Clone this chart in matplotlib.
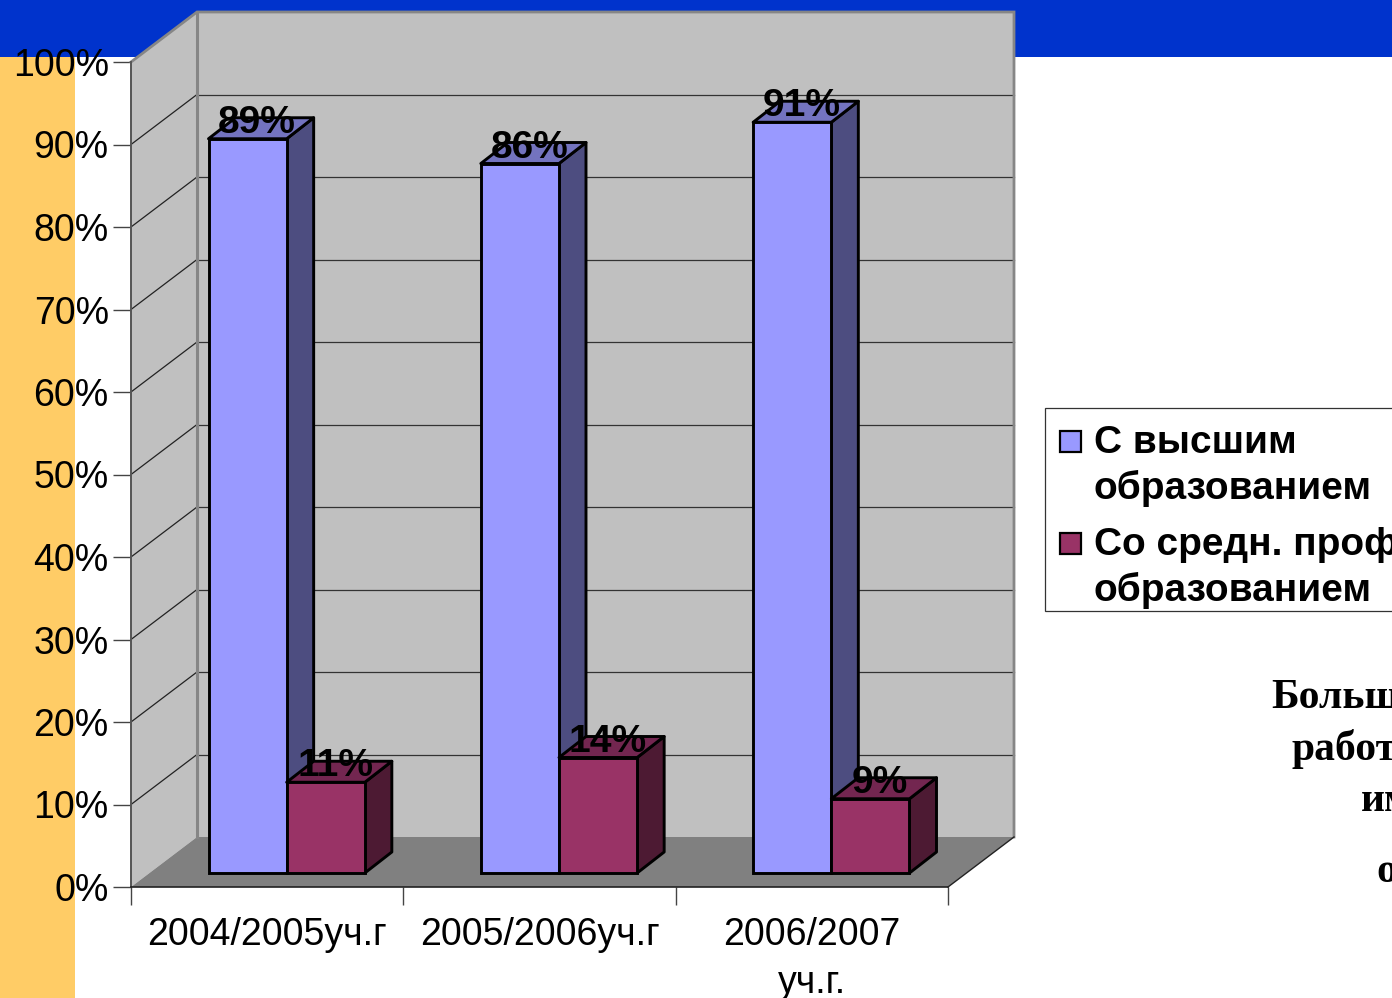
import matplotlib
matplotlib.use("Agg")
import matplotlib.pyplot as plt
from matplotlib.patches import Rectangle, Polygon, Patch
from matplotlib.legend_handler import HandlerPatch
from matplotlib.transforms import Affine2D

# ---- data ----
categories = ["2004/2005уч.г", "2005/2006уч.г", "2006/2007\nуч.г."]
higher_ed = [89, 86, 91]
secondary_ed = [11, 14, 9]
series_names = ["С высшим\nобразованием", "Со средн. проф.\nобразованием"]
y_ticks = [0, 10, 20, 30, 40, 50, 60, 70, 80, 90, 100]
side_fragments = ["Больш", "работ", "им", "о"]

# ---- layout (pixels of the 1392x998 canvas) ----
W, H = 1392, 998
L, R, T, B = 131, 948, 62, 887
WALL_DX, WALL_DY = 66, 50
BAR_DX, BAR_DY = 19.5, 14
DEPTH_DX, DEPTH_DY = 27, 21
BAR_W = 0.287

plt.rcParams["font.family"] = ["Liberation Sans", "DejaVu Sans"]
fig = plt.figure(figsize=(W / 100, H / 100), dpi=100, facecolor="white")
fig.add_artist(Rectangle((0, 1 - 57 / H), 1, 57 / H, transform=fig.transFigure, fc="#0033CC", ec="none", zorder=-5))
fig.add_artist(Rectangle((0, 0), 75 / W, 1 - 57 / H, transform=fig.transFigure, fc="#FFCC66", ec="none", zorder=-5))

ax = fig.add_axes([L / W, 1 - B / H, (R - L) / W, (B - T) / H], facecolor="none")
ax.set_xlim(0, len(categories))
ax.set_ylim(0, 100)
ux = (R - L) / len(categories)   # px per category
uy = (B - T) / 100               # px per percent
xmax = len(categories)


def shifted(dx, dy):
    return ax.transData + Affine2D().translate(dx, dy)


wdx, wdy = WALL_DX / ux, WALL_DY / uy
# walls and floor
ax.add_patch(Polygon([(0, 0), (wdx, wdy), (wdx, 100 + wdy), (0, 100)], fc="#C0C0C0", ec="none", clip_on=False, zorder=1))
ax.add_patch(Rectangle((wdx, wdy), xmax, 100, fc="#C0C0C0", ec="none", clip_on=False, zorder=1))
ax.add_patch(Polygon([(0, 0), (xmax, 0), (xmax + wdx, wdy), (wdx, wdy)], fc="#808080", ec="none", clip_on=False, zorder=1.5))
# gridlines
for v in y_ticks[1:-1]:
    ax.plot([wdx, wdx + xmax], [v + wdy, v + wdy], color="#333333", lw=0.9, clip_on=False, zorder=2)
    ax.plot([0, wdx], [v, v + wdy], color="#222222", lw=0.9, clip_on=False, zorder=2)
# wall borders
edge = "#868686"
ax.plot([0, wdx, wdx + xmax, wdx + xmax], [100, 100 + wdy, 100 + wdy, wdy], color=edge, lw=2, clip_on=False, zorder=2.2, solid_joinstyle="miter")
ax.plot([wdx, wdx], [wdy, 100 + wdy], color=edge, lw=2.2, clip_on=False, zorder=2.2)
ax.plot([xmax, xmax + wdx], [0, wdy], color="#222222", lw=1, clip_on=False, zorder=2.2)

# bars
styles = [("#9999FF", "#4D4D80", "#7373BF"), ("#993366", "#4D1A33", "#732650")]
ddx, ddy = DEPTH_DX / ux, DEPTH_DY / uy
offs = shifted(BAR_DX, BAR_DY)
z = 3.0
for i in range(len(categories)):
    for s, vals in enumerate([higher_ed, secondary_ed]):
        v = vals[i]
        x0 = i + 0.5 + (s - 1) * BAR_W
        x1 = x0 + BAR_W
        front, side, top = styles[s]
        kw = dict(ec="black", lw=2.1, clip_on=False, transform=offs, joinstyle="round", zorder=z)
        ax.add_patch(Polygon([(x1, 0), (x1 + ddx, ddy), (x1 + ddx, v + ddy), (x1, v)], fc=side, **kw))
        ax.add_patch(Polygon([(x0, v), (x1, v), (x1 + ddx, v + ddy), (x0 + ddx, v + ddy)], fc=top, **kw))
        ax.bar(x0, v, BAR_W, align="edge", color=front, edgecolor="black", linewidth=2.1,
               transform=offs, clip_on=False, zorder=z)
        z += 0.01
# value labels sit on top of the bars
for i in range(len(categories)):
    for s, vals in enumerate([higher_ed, secondary_ed]):
        v = vals[i]
        xc = i + 0.5 + (s - 0.5) * BAR_W
        ax.annotate(f"{v}%", (xc, v), xycoords=offs, xytext=(9.5, 16), textcoords="offset pixels",
                    ha="center", va="center", fontsize=28, fontweight="bold", color="black",
                    zorder=6, annotation_clip=False)

# axes
for sp in ("top", "right"):
    ax.spines[sp].set_visible(False)
ax.spines["left"].set_color("#555555")
ax.spines["left"].set_linewidth(1.4)
ax.spines["bottom"].set_color("#222222")
ax.spines["bottom"].set_linewidth(1.2)
ax.spines["left"].set_zorder(2.5)
ax.spines["bottom"].set_zorder(2.5)
ax.set_yticks(y_ticks)
ax.set_yticklabels([f"{v}%" for v in y_ticks])
ax.set_xticks(range(len(categories) + 1))
ax.set_xticklabels([])
ax.set_xticks([i + 0.5 for i in range(len(categories))], labels=categories, minor=True)
ax.tick_params(axis="y", length=13, width=1, color="#444444", pad=3, labelsize=27, labelcolor="black")
ax.tick_params(axis="x", which="major", length=13, width=1, color="#444444")
ax.tick_params(axis="x", which="minor", length=0, pad=21.5, labelsize=27, labelcolor="black")
for t in ax.get_xticklabels(minor=True):
    t.set_linespacing(1.42)


# legend
def first_line_square(legend, orig_handle, xdescent, ydescent, width, height, fontsize):
    return Rectangle((xdescent + 5, ydescent + 17.0), 15.5, 15.5)


fig.add_artist(Rectangle((1045 / W, 1 - 611 / H), 400 / W, 203 / H, transform=fig.transFigure,
                         fc="white", ec="#333333", lw=0.9, clip_on=True, zorder=1))
handles = [Patch(fc=styles[0][0], ec="black", lw=1.6), Patch(fc=styles[1][0], ec="black", lw=1.6)]
leg = fig.legend(handles, series_names, loc="upper left",
                 bbox_to_anchor=(1045 / W, 1 - 417 / H), bbox_transform=fig.transFigure,
                 fontsize=28, frameon=False,
                 borderpad=0.2, labelspacing=0.5, handlelength=0.95, handleheight=1.0, handletextpad=0.1,
                 borderaxespad=0, prop={"family": "Liberation Sans", "weight": "bold", "size": 28},
                 handler_map={Patch: HandlerPatch(patch_func=first_line_square)})
leg.set_zorder(2)
for t in leg.get_texts():
    t.set_linespacing(1.33)

# cropped side text
for frag, x, y in zip(side_fragments, [1271, 1292, 1361, 1376], [698, 749, 801, 872]):
    fig.text(x / W, 1 - y / H, frag, ha="left", va="center", fontsize=30, fontweight="bold",
             family="Liberation Serif", color="black")

fig.savefig("out.png", dpi=100)
